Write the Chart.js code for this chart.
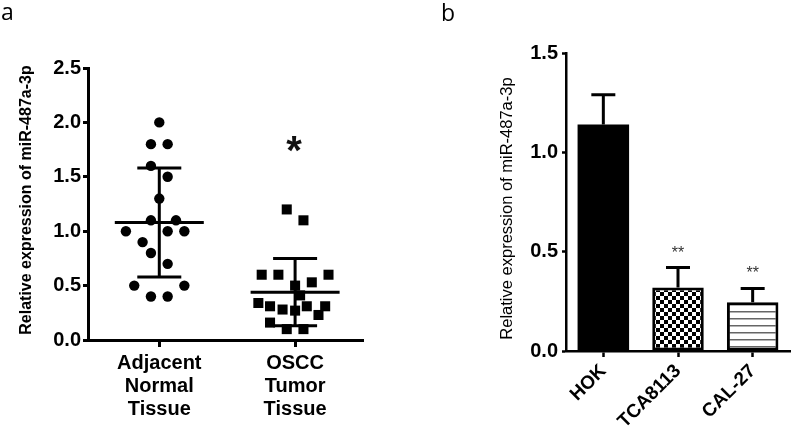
<!DOCTYPE html>
<html><head><meta charset="utf-8">
<script src="https://cdn.jsdelivr.net/npm/chart.js@4.4.1/dist/chart.umd.min.js"></script>
<style>
html,body{margin:0;padding:0;background:#fff;}
#wrap{position:relative;width:800px;height:427px;overflow:hidden;background:#fff;}
canvas{position:absolute;top:0;}
#cA{left:0;width:400px;height:427px;}
#cB{left:400px;width:400px;height:427px;}
.panel{position:absolute;font-family:'Open Sans',sans-serif;font-size:23px;color:#000;line-height:23px;}
</style></head><body>
<div id="wrap">
<canvas id="cA" width="400" height="427"></canvas>
<canvas id="cB" width="400" height="427"></canvas>
<div class="panel" style="left:1px;top:0px;">a</div>
<div class="panel" style="left:441px;top:1px;">b</div>
</div>
<script>
// ---------- Panel a data ----------
const groupLabels = [["Adjacent", "Normal", "Tissue"], ["OSCC", "Tumor", "Tissue"]];
const adjacentValues = [2.0, 1.8, 1.8, 1.6, 1.5, 1.3, 1.1, 1.1, 1.0, 1.0, 1.0, 0.9, 0.8, 0.7, 0.5, 0.5, 0.4, 0.4];
const adjacentJitter = [0, -1, 1, -1, 1, 0, -1, 2, -4, 1, 3, -2, -1, 1, -3, 3, -1, 1];
const tumorValues = [1.2, 1.1, 0.6, 0.6, 0.6, 0.53, 0.5, 0.41, 0.34, 0.31, 0.31, 0.31, 0.28, 0.27, 0.23, 0.16, 0.1, 0.1];
const tumorJitter = [-1, 1, -4, -2, 4, 2, 0, 0.6, -4.4, -3, 1.4, 3.6, -1.5, 0, 2.8, -3, -1, 1];
const groupMeans = [1.08, 0.44];
const groupSds = [0.50, 0.31];
const groupSignif = ["", "*"];
const yTicksA = [0, 0.5, 1.0, 1.5, 2.0, 2.5];
const yTitleA = 'Relative expression of miR-487a-3p';

// ---------- Panel b data ----------
const cellLines = ["HOK", "TCA8113", "CAL-27"];
const expressionMeans = [1.14, 0.32, 0.245];
const expressionErrors = [0.15, 0.10, 0.07];
const cellSignif = ["", "**", "**"];
const yTicksB = [0, 0.5, 1.0, 1.5];
const yTitleB = 'Relative expression of miR-487a-3p';

const FONT = "'Liberation Sans', Arial, Helvetica, sans-serif";
const JITTER_STEP = 0.0615;

// y-axis title drawn beside the y scale
function yTitlePlugin(text, font, xCenter, dy) {
  return {
    id: 'yTitle',
    afterDraw(chart) {
      const {ctx, chartArea} = chart;
      const y = chart.scales.y;
      ctx.save();
      ctx.translate(y.left + xCenter, (chartArea.top + chartArea.bottom) / 2 + dy);
      ctx.rotate(-Math.PI / 2);
      ctx.font = font;
      ctx.fillStyle = '#000';
      ctx.textAlign = 'center';
      ctx.textBaseline = 'middle';
      ctx.fillText(text, 0, 0);
      ctx.restore();
    }
  };
}

// ---------- Panel a ----------
const meanSdPlugin = {
  id: 'meanSd',
  afterDatasetsDraw(chart) {
    const {ctx, scales: {x, y}} = chart;
    ctx.save();
    ctx.strokeStyle = '#000';
    ctx.lineWidth = 3;
    groupMeans.forEach((m, i) => {
      const cx = x.getPixelForValue(i + 1);
      const yM = y.getPixelForValue(m);
      const yH = y.getPixelForValue(m + groupSds[i]);
      const yL = y.getPixelForValue(m - groupSds[i]);
      ctx.beginPath();
      ctx.moveTo(cx, yH); ctx.lineTo(cx, yL);
      ctx.moveTo(cx - 22, yH); ctx.lineTo(cx + 22, yH);
      ctx.moveTo(cx - 22, yL); ctx.lineTo(cx + 22, yL);
      ctx.moveTo(cx - 44.5, yM); ctx.lineTo(cx + 44.5, yM);
      ctx.stroke();
      if (groupSignif[i]) {
        const vals = i === 0 ? adjacentValues : tumorValues;
        const top = y.getPixelForValue(Math.max(...vals)) - 65;
        ctx.font = 'bold 40px ' + FONT;
        ctx.fillStyle = '#111';
        ctx.textAlign = 'center';
        ctx.textBaseline = 'alphabetic';
        const mt = ctx.measureText(groupSignif[i]);
        const base = top + (mt.actualBoundingBoxAscent - mt.actualBoundingBoxDescent) / 2;
        ctx.fillText(groupSignif[i], cx - 1, base);
      }
    });
    ctx.restore();
  }
};

new Chart(document.getElementById('cA'), {
  type: 'scatter',
  data: {
    datasets: [
      {
        data: adjacentValues.map((v, i) => ({x: 1 + adjacentJitter[i] * JITTER_STEP, y: v})),
        pointStyle: 'circle', pointRadius: 5.2, backgroundColor: '#000', borderWidth: 0
      },
      {
        data: tumorValues.map((v, i) => ({x: 2 + tumorJitter[i] * JITTER_STEP, y: v})),
        pointStyle: 'rect', pointRadius: 7.1, backgroundColor: '#000', borderWidth: 0
      }
    ]
  },
  options: {
    responsive: false, animation: false, events: [],
    layout: {padding: {left: 0, top: 68, right: 37, bottom: 0}},
    plugins: {legend: {display: false}, tooltip: {enabled: false}},
    scales: {
      x: {
        type: 'linear', min: 0.475, max: 2.5,
        afterBuildTicks: s => { s.ticks = groupLabels.map((_, i) => ({value: i + 1})); },
        ticks: {
          callback: v => groupLabels[v - 1], maxRotation: 0, autoSkip: false,
          font: {family: FONT, size: 20, weight: 'bold', lineHeight: 1.15}, color: '#000', padding: 5
        },
        grid: {drawOnChartArea: false, drawTicks: true, tickLength: 7, tickWidth: 3, tickColor: '#000'},
        border: {display: true, color: '#000', width: 3},
        afterFit: s => { s.height = 87; }
      },
      y: {
        min: 0, max: 2.5,
        afterBuildTicks: s => { s.ticks = yTicksA.map(v => ({value: v})); },
        ticks: {callback: v => v.toFixed(1), font: {family: FONT, size: 20, weight: 'bold'}, color: '#000', padding: 2},
        grid: {drawOnChartArea: false, drawTicks: true, tickLength: 5, tickWidth: 3, tickColor: '#000'},
        border: {display: true, color: '#000', width: 3},
        afterFit: s => { s.width = 88; }
      }
    }
  },
  plugins: [meanSdPlugin, yTitlePlugin(yTitleA, 'bold 16px ' + FONT, 27, -4)]
});

// ---------- Panel b ----------
function makeChecker() {
  const c = document.createElement('canvas');
  c.width = 8; c.height = 8;
  const g = c.getContext('2d');
  g.fillStyle = '#fff'; g.fillRect(0, 0, 8, 8);
  g.fillStyle = '#000'; g.fillRect(0, 0, 4, 4); g.fillRect(4, 4, 4, 4);
  return g.createPattern(c, 'repeat');
}
function makeStripes() {
  const c = document.createElement('canvas');
  c.width = 8; c.height = 7;
  const g = c.getContext('2d');
  g.fillStyle = '#fff'; g.fillRect(0, 0, 8, 7);
  g.fillStyle = '#666'; g.fillRect(0, 3, 8, 1.5);
  return g.createPattern(c, 'repeat');
}
const ctxB = document.getElementById('cB').getContext('2d');
const barFills = ['#000', makeChecker(), makeStripes()];

const errPlugin = {
  id: 'errBars',
  afterDatasetsDraw(chart) {
    const {ctx, scales: {y}} = chart;
    const meta = chart.getDatasetMeta(0);
    ctx.save();
    ctx.strokeStyle = '#000';
    ctx.lineWidth = 3;
    meta.data.forEach((bar, i) => {
      const cx = bar.x;
      const y0 = y.getPixelForValue(expressionMeans[i]);
      const y1 = y.getPixelForValue(expressionMeans[i] + expressionErrors[i]);
      ctx.beginPath();
      ctx.moveTo(cx, y0); ctx.lineTo(cx, y1);
      ctx.moveTo(cx - 12, y1); ctx.lineTo(cx + 12, y1);
      ctx.stroke();
      if (cellSignif[i]) {
        ctx.font = '16px ' + FONT;
        ctx.fillStyle = '#333';
        ctx.textAlign = 'center';
        ctx.textBaseline = 'alphabetic';
        const mt = ctx.measureText(cellSignif[i]);
        const cy = y1 - 19;
        ctx.fillText(cellSignif[i], cx, cy + (mt.actualBoundingBoxAscent - mt.actualBoundingBoxDescent) / 2);
      }
    });
    ctx.restore();
  }
};

new Chart(ctxB, {
  type: 'bar',
  data: {
    labels: cellLines,
    datasets: [{
      data: expressionMeans,
      backgroundColor: barFills,
      borderColor: '#000', borderWidth: [0, 3, 3], borderSkipped: false,
      barPercentage: 0.69, categoryPercentage: 1
    }]
  },
  options: {
    responsive: false, animation: false, events: [],
    layout: {padding: {left: 0, top: 53, right: 10, bottom: 0}},
    plugins: {legend: {display: false}, tooltip: {enabled: false}},
    scales: {
      x: {
        ticks: {maxRotation: 45, minRotation: 45, autoSkip: false,
          font: {family: FONT, size: 19, weight: 'bold'}, color: '#000', padding: 3},
        grid: {offset: false, drawOnChartArea: false, drawTicks: true, tickLength: 6, tickWidth: 2.5, tickColor: '#000'},
        border: {display: true, color: '#000', width: 2.5},
        afterFit: s => { s.height = 76; }
      },
      y: {
        min: 0, max: 1.5,
        afterBuildTicks: s => { s.ticks = yTicksB.map(v => ({value: v})); },
        ticks: {callback: v => v.toFixed(1), font: {family: FONT, size: 20, weight: 'bold'}, color: '#000', padding: 4},
        grid: {drawOnChartArea: false, drawTicks: true, tickLength: 4, tickWidth: 2.5, tickColor: '#000'},
        border: {display: true, color: '#000', width: 2.5},
        afterFit: s => { s.width = 166; }
      }
    }
  },
  plugins: [errPlugin, yTitlePlugin(yTitleB, '16.5px ' + FONT, 107, 6.5)]
});
</script>
</body></html>
